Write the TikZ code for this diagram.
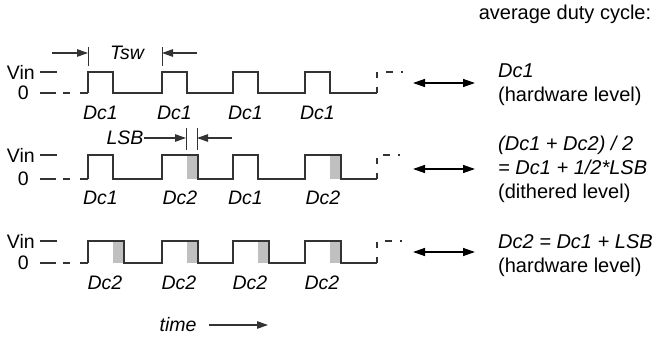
\documentclass[tikz,border=0pt]{standalone}
\usepackage{fontspec}
\setmainfont{Liberation Sans}
\usetikzlibrary{arrows.meta}
\definecolor{ink}{HTML}{333333}
\definecolor{shade}{HTML}{C0C0C0}
\tikzset{
  wave/.style={draw=ink, line width=1.4pt, line join=miter},
  lead/.style={draw=ink, line width=1.4pt, dash pattern=on 16pt off 7pt on 7pt off 10pt},
  tail/.style={draw=ink, line width=1.4pt, dash pattern=on 6pt off 9pt on 6pt off 9pt on 7pt off 8pt on 2pt off 30pt},
  tick/.style={draw=ink, line width=1pt},
  dimarrow/.style={draw=ink, line width=1.2pt, -{Triangle[length=11pt,width=7.5pt]}},
  dblarrow/.style={draw=black, line width=1.4pt, {Triangle[length=12pt,width=8pt]}-{Triangle[length=12pt,width=8pt]}},
  lsbfill/.style={fill=shade},
  lab/.style={font=\fontsize{19.5}{24}\selectfont, inner sep=0pt},
  itlab/.style={lab, font=\fontsize{19.5}{24}\selectfont\itshape},
  side/.style={lab, font=\fontsize{20}{24}\selectfont, align=left, anchor=west},
}
\begin{document}
\begin{tikzpicture}[x=1pt,y=-1pt]
  \useasboundingbox (0,0) rectangle (654,337);
  \node[lab, font=\fontsize{20}{24}\selectfont] (head) at (565,14) {average duty cycle:};

  % row 1: Dc1 every period
  \node[lab,anchor=east] (vin1) at (35,72) {Vin};
  \node[lab,anchor=east] (zero1) at (29,93) {0};
  \draw[wave] (40,72) -- (57,72);
  \draw[lead] (40,93) -- (88,93);
  \draw[wave] (88,93) \foreach \x in {88,162,233,305} { -- (\x,93) -- (\x,72) -- (\x+25,72) -- (\x+25,93) } -- (377,93);
  \draw[tail] (377,93) -- (377,72) -- (404,72);
  \foreach \x [count=\i] in {88,162,233,305}
    \node[itlab] (da\i) at (\x+12.5,113) {Dc1};
  \coordinate (tswa) at (88,53);
  \coordinate (tswb) at (162,53);
  \draw[tick] (88,47) -- (88,66);
  \draw[tick] (162,47) -- (162,66);
  \node[itlab] (tsw) at (127,53) {Tsw};
  \draw[dimarrow] (52,53) -- (tswa);
  \draw[dimarrow] (197,53) -- (tswb);
  \coordinate (ra1) at (413,83);
  \coordinate (ra2) at (475,83);
  \draw[dblarrow] (ra1) -- (ra2);
  \node[side] (avga) at (498,85) {{\itshape Dc1}\\(hardware level)};

  % row 2: Dc1 and Dc2 alternate
  \node[lab,anchor=east] (vin2) at (35,155) {Vin};
  \node[lab,anchor=east] (zero2) at (29,179) {0};
  \foreach \x in {162,305}
    \fill[lsbfill] (\x+25,155) rectangle (\x+36,179);
  \draw[wave] (40,155) -- (57,155);
  \draw[lead] (40,179) -- (88,179);
  \draw[wave] (88,179) \foreach \x/\w in {88/25,162/36,233/25,305/36} { -- (\x,179) -- (\x,155) -- (\x+\w,155) -- (\x+\w,179) } -- (377,179);
  \draw[tail] (377,179) -- (377,155) -- (404,155);
  \foreach \x/\w/\t [count=\i] in {88/25/1,162/36/2,233/25/1,305/36/2}
    \node[itlab] (db\i) at (\x+\w/2,198) {Dc\t};
  \coordinate (lsba) at (186,138);
  \coordinate (lsbb) at (197,138);
  \draw[tick] (186,128) -- (186,150);
  \draw[tick] (197,128) -- (197,150);
  \node[itlab] (lsb) at (125,138) {LSB};
  \draw[dimarrow] (lsb.east) -- (lsba);
  \draw[dimarrow] (232,138) -- (lsbb);
  \coordinate (rb1) at (413,169);
  \coordinate (rb2) at (475,169);
  \draw[dblarrow] (rb1) -- (rb2);
  \node[side] (avgb) at (498,169) {{\itshape (Dc1 + Dc2) / 2}\\{\itshape = Dc1 + 1/2*LSB}\\(dithered level)};

  % row 3: Dc2 every period
  \node[lab,anchor=east] (vin3) at (35,241) {Vin};
  \node[lab,anchor=east] (zero3) at (29,263) {0};
  \foreach \x in {88,162,233,305}
    \fill[lsbfill] (\x+25,241) rectangle (\x+36,263);
  \draw[wave] (40,241) -- (57,241);
  \draw[lead] (40,263) -- (88,263);
  \draw[wave] (88,263) \foreach \x in {88,162,233,305} { -- (\x,263) -- (\x,241) -- (\x+36,241) -- (\x+36,263) } -- (377,263);
  \draw[tail] (377,263) -- (377,241) -- (404,241);
  \foreach \x [count=\i] in {88,162,233,305}
    \node[itlab] (dc\i) at (\x+17,283) {Dc2};
  \coordinate (rc1) at (413,252);
  \coordinate (rc2) at (475,252);
  \draw[dblarrow] (rc1) -- (rc2);
  \node[side] (avgc) at (498,256) {{\itshape Dc2 = Dc1 + LSB}\\(hardware level)};

  % time axis
  \node[itlab] (time) at (178,325) {time};
  \coordinate (timeend) at (268,325);
  \draw[dimarrow] ([xshift=12pt]time.east) -- (timeend);
\end{tikzpicture}
\end{document}
